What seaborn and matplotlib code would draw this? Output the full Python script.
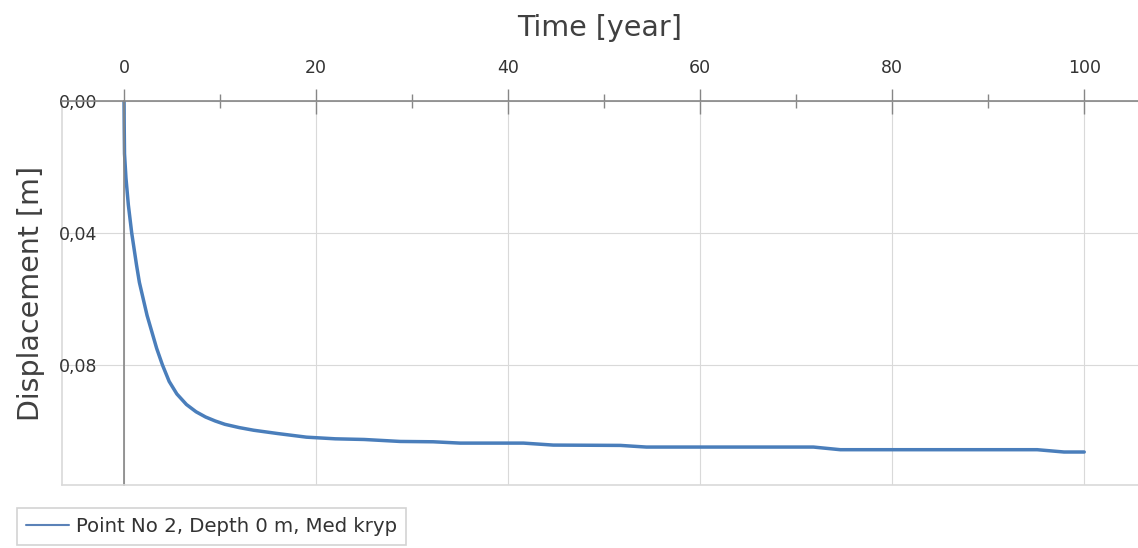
# libraries
import pandas as pd
import matplotlib
matplotlib.use("Agg")
import matplotlib.pyplot as plt
import matplotlib.ticker as mticker
from matplotlib.lines import Line2D
import seaborn as sns

# values (time in years, displacement in m)
time_year = [0, 0.02, 0.05, 0.2, 0.45, 0.8, 1.3, 1.6, 2.0, 2.4, 2.9, 3.4, 4.0,
             4.7, 5.5, 6.5, 7.5, 8.5, 9.5, 10.5, 12, 13.5, 16, 19, 22, 25,
             28.75, 32.2, 35, 41.6, 44.7, 51.7, 54.4, 71.8, 74.6, 95.1, 97.9, 100]
displacement_m = [0, 0.008, 0.016, 0.0233, 0.0315, 0.040, 0.0497, 0.055, 0.060,
                  0.065, 0.070, 0.075, 0.080, 0.085, 0.0888, 0.0920, 0.0942,
                  0.0958, 0.0970, 0.0980, 0.0990, 0.0998, 0.1008, 0.1019, 0.1024,
                  0.1026, 0.1032, 0.1033, 0.1037, 0.1037, 0.1043, 0.1044, 0.1049,
                  0.1049, 0.1057, 0.1057, 0.1064, 0.1064]
series_name = "Point No 2, Depth 0 m, Med kryp"

dados = pd.DataFrame({"time": time_year, "disp": displacement_m})

sns.set_style("white")
plt.rcParams['font.family'] = ['DejaVu Sans']

fig = plt.figure(figsize=(11.38, 5.48), dpi=100)
ax = fig.add_axes([62 / 1138, 63 / 548, 1076 / 1138, 384 / 548])

line_color = "#4a7ebb"
sns.lineplot(data=dados, x="time", y="disp", ax=ax, color=line_color,
             linewidth=2.5, legend=False)

# limits, y goes downward
ax.set_xlim(-6.46, 105.6)
ax.set_ylim(0.1164, 0)

# ticks
ax.xaxis.tick_top()
ax.xaxis.set_label_position("top")
ax.xaxis.set_major_locator(mticker.MultipleLocator(20))
ax.xaxis.set_minor_locator(mticker.MultipleLocator(10))
ax.yaxis.set_major_locator(mticker.MultipleLocator(0.04))
ax.yaxis.set_minor_locator(mticker.MultipleLocator(0.02))
ax.yaxis.set_major_formatter(mticker.FuncFormatter(lambda v, p: f"{v:.2f}".replace(".", ",")))

axis_grey = "#868686"
ax.tick_params(axis="both", which="major", direction="inout", color=axis_grey,
               labelsize=12.5, labelcolor="#333333", width=1)
ax.tick_params(axis="y", which="major", length=22, pad=8)
ax.tick_params(axis="x", which="major", length=18, pad=8, top=True, bottom=False)
ax.tick_params(axis="both", which="minor", direction="inout", length=10,
               color=axis_grey, width=1)
ax.tick_params(axis="x", which="minor", top=True, bottom=False)

# grid
ax.grid(True, which="major", color="#d9d9d9", linewidth=0.8)
ax.set_axisbelow(True)

# spines: axis lines through zero, light outer frame
ax.spines["left"].set_position(("data", 0))
ax.spines["left"].set_color(axis_grey)
ax.spines["left"].set_linewidth(1.2)
ax.spines["top"].set_color(axis_grey)
ax.spines["top"].set_linewidth(1.2)
ax.spines["right"].set_visible(False)
ax.spines["bottom"].set_color("#d9d9d9")
ax.spines["bottom"].set_linewidth(1.2)
ax.add_line(Line2D([0, 0], [0, 1], transform=ax.transAxes, color="#d9d9d9",
                   linewidth=1.2, clip_on=False, zorder=0))

# axis labels
ax.set_xlabel("Time [year]", fontsize=20.5, color="#404040", labelpad=17)
ax.set_ylabel("Displacement [m]", fontsize=20.5, color="#404040", labelpad=10)

# legend at bottom left
handle = Line2D([], [], color="#5b82b8", linewidth=1.5)
leg = fig.legend([handle], [series_name], loc="upper left",
                 bbox_to_anchor=(17 / 1138, 1 - 508 / 548), fontsize=14.2,
                 frameon=True, fancybox=False, handlelength=2.2,
                 handletextpad=0.35, borderpad=0.45, borderaxespad=0)
leg.get_frame().set_edgecolor("#c8c8c8")
leg.get_frame().set_linewidth(1.2)
for txt in leg.get_texts():
    txt.set_color("#333333")

# saving the result
fig.savefig("out.png", dpi=100)
